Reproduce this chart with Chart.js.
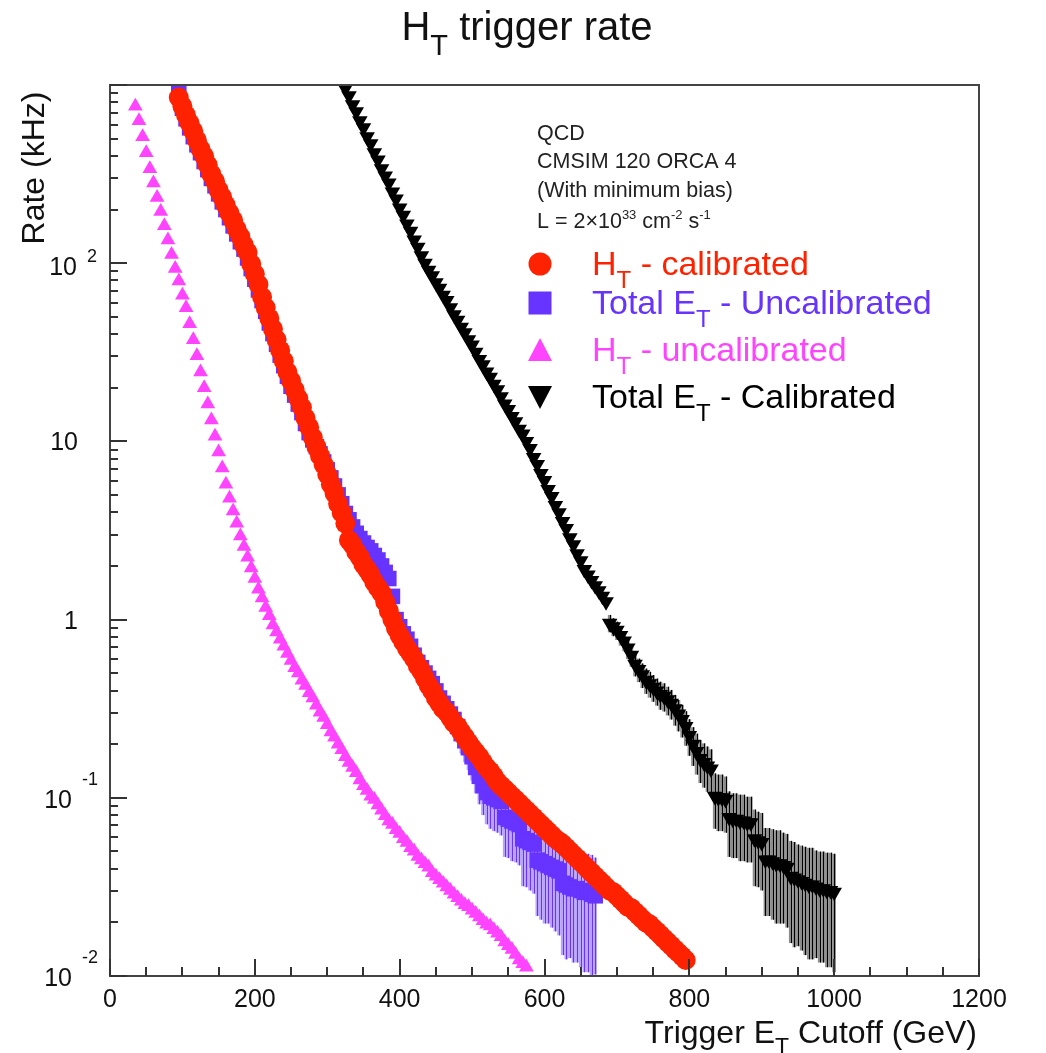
<!DOCTYPE html>
<html>
<head>
<meta charset="utf-8">
<title>HT trigger rate</title>
<script src="https://cdn.jsdelivr.net/npm/chart.js@4.4.1/dist/chart.umd.min.js"></script>
<style>
  html, body { margin: 0; padding: 0; background: #fff; }
  canvas { display: block; }
</style>
</head>
<body>
<canvas id="rateChart" width="1046" height="1053"></canvas>
<script>
// trigger cutoffs, GeV (5 GeV bins)
const cutoffs = [
  0,5,10,15,20,25,30,35,40,45,50,55,60,65,70,75,80,85,90,95,
  100,105,110,115,120,125,130,135,140,145,150,155,160,165,170,175,180,185,190,195,
  200,205,210,215,220,225,230,235,240,245,250,255,260,265,270,275,280,285,290,295,
  300,305,310,315,320,325,330,335,340,345,350,355,360,365,370,375,380,385,390,395,
  400,405,410,415,420,425,430,435,440,445,450,455,460,465,470,475,480,485,490,495,
  500,505,510,515,520,525,530,535,540,545,550,555,560,565,570,575,580,585,590,595,
  600,605,610,615,620,625,630,635,640,645,650,655,660,665,670,675,680,685,690,695,
  700,705,710,715,720,725,730,735,740,745,750,755,760,765,770,775,780,785,790,795,
  800,805,810,815,820,825,830,835,840,845,850,855,860,865,870,875,880,885,890,895,
  900,905,910,915,920,925,930,935,940,945,950,955,960,965,970,975,980,985,990,995,
  1000
];

// rates in kHz, first value belongs to the cutoff in *From
const htCalFrom = 95;   // H_T - calibrated
const htCal = [
  851,759,676,610,550,490,437,398,355,316,
  288,257,234,211,191,174,155,141,126,115,
  99,87,75.9,64.6,56.2,49.0,42.7,37.2,32.4,28.2,
  24.5,21.9,19.5,17.4,15.5,13.5,12.0,10.5,9.33,8.32,
  7.41,6.53,5.75,5.13,4.47,3.98,3.47,2.79,2.63,2.40,
  2.24,2.04,1.91,1.78,1.62,1.51,1.41,1.26,1.12,1.00,
  0.891,0.813,0.750,0.692,0.646,0.603,0.550,0.513,0.468,0.427,
  0.398,0.363,0.339,0.316,0.302,0.282,0.263,0.251,0.234,0.219,
  0.204,0.191,0.180,0.170,0.158,0.148,0.141,0.132,0.123,0.117,
  0.112,0.107,0.102,0.0977,0.0933,0.0891,0.0851,0.0813,0.0776,0.0741,
  0.0708,0.0676,0.0646,0.0617,0.0589,0.0569,0.0550,0.0525,0.0501,0.0479,
  0.0457,0.0437,0.0417,0.0398,0.0380,0.0363,0.0347,0.0331,0.0316,0.0302,
  0.0295,0.0282,0.0269,0.0257,0.0245,0.0240,0.0229,0.0219,0.0209,0.0200,
  0.0195,0.0186,0.0178,0.0170,0.0162,0.0155,0.0148,0.0141,0.0135,0.0129,
  0.0123
];

const etUncalFrom = 95; // Total E_T - Uncalibrated
const etUncal = [
  1000,741,646,575,513,462,417,372,335,299,
  272,245,221,200,180,162,146,132,120,107,
  93.3,81.3,70.8,61.7,53.7,46.2,40.3,35.1,30.5,26.6,
  23.2,20.4,18.2,16.2,14.5,12.6,11.2,10.2,9.33,8.51,
  7.67,6.92,6.24,5.62,5.01,4.47,3.94,3.63,3.31,3.05,
  2.85,2.69,2.54,2.43,2.29,2.16,2.00,1.84,1.70,1.35,
  1.00,0.912,0.832,0.776,0.708,0.631,0.575,0.537,0.501,0.468,
  0.437,0.398,0.363,0.339,
  0.316,0.295,0.275,0.251,0.229,0.209,0.191,0.170,0.148,0.132,
  0.117,0.107,0.102,0.100,0.0977,0.0955,0.0776,0.0759,0.0741,0.0724,
  0.0708,0.0589,0.0575,0.0562,0.0550,0.0447,0.0437,0.0427,0.0417,0.0407,
  0.0398,0.0389,0.0331,0.0324,0.0316,0.0309,0.0309,0.0302,0.0295,0.0295,
  0.0288,0.0282
];
const etUncalErrFrom = 485;
const etUncalErr = [
  0.052,0.050,0.048,0.045,0.042,0.040,0.037,0.036,0.035,0.035,
  0.034,0.034,0.031,0.030,0.030,0.029,0.029,0.027,0.026,0.026,
  0.026,0.023,0.023,0.023,0.022,0.022,0.022,0.022,0.020,0.020,
  0.019,0.019,0.019,0.019,0.019,0.019,0.019,0.018
];

const htUncalFrom = 35; // H_T - uncalibrated
const htUncal = [
  759,631,513,417,339,282,234,195,162,135,
  112,93.3,79.4,66.1,56.2,45.7,37.2,30.2,24.5,20.0,
  16.2,13.2,10.7,8.71,7.08,5.75,4.79,4.07,3.47,2.95,
  2.57,2.24,1.95,1.70,1.48,1.32,1.17,1.05,0.933,0.851,
  0.776,0.708,0.646,0.589,0.537,0.501,0.457,0.427,0.389,0.363,
  0.331,0.302,0.282,0.257,0.234,0.219,0.200,0.186,0.170,0.158,
  0.148,0.138,0.126,0.117,0.110,0.102,0.0977,0.0912,0.0851,0.0794,
  0.0741,0.0708,0.0661,0.0631,0.0589,0.0562,0.0525,0.0501,0.0468,0.0447,
  0.0427,0.0407,0.0380,0.0363,0.0347,0.0331,0.0316,0.0302,0.0288,0.0275,
  0.0263,0.0251,0.0245,0.0234,0.0224,0.0214,0.0204,0.0195,0.0191,0.0182,
  0.0174,0.0166,0.0155,0.0148,0.0141,0.0132,0.0123,0.0117,0.0112
];

const etCalFrom = 325;  // Total E_T - Calibrated
const etCal = [
  955,871,776,708,631,575,513,468,417,380,
  339,309,282,251,229,204,186,166,151,135,
  123,110,100,91.2,85.1,77.6,72.4,66.1,61.7,56.2,
  51.3,47.9,43.7,40.7,37.2,34.7,31.6,28.8,26.9,24.5,
  22.9,20.9,19.5,17.8,16.2,15.1,13.8,12.9,11.7,11.0,
  10.0,9.12,8.13,7.41,6.61,6.03,5.37,4.90,4.37,3.98,
  3.55,3.24,2.88,2.63,2.34,2.14,1.91,1.78,1.66,1.55,
  1.45,1.35,1.26,
  0.955,0.912,0.871,0.813,0.759,0.692,0.631,0.562,0.525,0.490,
  0.457,0.437,0.417,0.398,0.380,0.372,0.355,0.339,0.316,0.295,
  0.275,0.251,0.224,0.200,0.182,0.166,0.158,0.151,0.145,0.102,
  0.100,0.100,0.0977,0.0776,0.0759,0.0759,0.0741,0.0741,0.0724,0.0724,
  0.0589,0.0575,0.0562,0.0447,0.0447,0.0437,0.0427,0.0427,0.0417,0.0407,
  0.0363,0.0355,0.0347,0.0339,0.0331,0.0324,0.0324,0.0316,0.0309,0.0309,
  0.0302,0.0302,0.0295
];
const etCalErrFrom = 690;
const etCalErr = [
  0.107,0.105,0.102,0.099,0.095,0.091,0.087,0.082,0.079,0.077,
  0.074,0.072,0.071,0.069,0.068,0.067,0.065,0.064,0.062,0.059,
  0.057,0.055,0.052,0.049,0.047,0.045,0.044,0.043,0.042,0.035,
  0.035,0.035,0.034,0.031,0.030,0.030,0.030,0.030,0.029,0.029,
  0.027,0.026,0.026,0.023,0.023,0.023,0.023,0.023,0.022,0.022,
  0.021,0.021,0.020,0.020,0.020,0.020,0.020,0.019,0.019,0.019,
  0.019,0.019,0.019
];

// axis ticks
const xMajorTicks = [0, 200, 400, 600, 800, 1000, 1200];
const xTickLabels = ['0', '200', '400', '600', '800', '1000', '1200'];
const yDecades = [0.01, 0.1, 1, 10, 100, 1000];
const yDecadeLabels = [['10', '-2'], ['10', '-1'], ['1', ''], ['10', ''], ['10', '2'], null];

const legendLabels = [
  [['H', ''], ['T', 'sub'], [' - calibrated', '']],
  [['Total E', ''], ['T', 'sub'], [' - Uncalibrated', '']],
  [['H', ''], ['T', 'sub'], [' - uncalibrated', '']],
  [['Total E', ''], ['T', 'sub'], [' - Calibrated', '']]
];
const infoLines = ['QCD', 'CMSIM 120 ORCA 4', '(With minimum bias)'];

const COL = { red: '#ff2200', blue: '#6633ff', magenta: '#ff44ff', black: '#000000' };
const FONT = '"Liberation Sans", Arial, Helvetica, sans-serif';

function toPoints(from, vals, errFrom, errs) {
  const i0 = cutoffs.indexOf(from);
  return vals.map((v, i) => {
    const x = cutoffs[i0 + i];
    let e = null;
    if (errs) {
      const k = cutoffs.indexOf(x) - cutoffs.indexOf(errFrom);
      if (k >= 0 && k < errs.length) e = errs[k];
    }
    return { x: x, y: v, e: e };
  });
}

// text with sub/superscripts, parts = [[text, ''|'sub'|'sup'], ...]
function rich(ctx, x, y, parts, size, color, align) {
  const segs = parts.map(([t, m]) => {
    const s = m === 'sub' ? Math.round(size * 0.72) : m === 'sup' ? Math.round(size * 0.62) : size;
    ctx.font = s + 'px ' + FONT;
    return { t, m, s, w: ctx.measureText(t).width };
  });
  const total = segs.reduce((a, g) => a + g.w, 0);
  let cx = align === 'right' ? x - total : align === 'center' ? x - total / 2 : x;
  ctx.fillStyle = color;
  ctx.textAlign = 'left';
  ctx.textBaseline = 'alphabetic';
  segs.forEach(g => {
    ctx.font = g.s + 'px ' + FONT;
    const dy = g.m === 'sub' ? size * 0.38 : g.m === 'sup' ? -size * 0.42 : 0;
    ctx.fillText(g.t, cx, y + dy);
    cx += g.w;
  });
}

const errorBars = {
  id: 'errorBars',
  beforeDatasetsDraw(chart) {
    const { ctx, chartArea: a, scales: { x, y } } = chart;
    ctx.save();
    ctx.beginPath();
    ctx.rect(a.left, a.top, a.right - a.left, a.bottom - a.top);
    ctx.clip();
    chart.data.datasets.forEach(ds => {
      if (!ds.errColor) return;
      ds.data.forEach(p => {
        if (p.e == null) return;
        const px = x.getPixelForValue(p.x);
        const top = y.getPixelForValue(p.y + p.e);
        const bot = y.getPixelForValue(Math.max(p.y - p.e, 0.001));
        ctx.fillStyle = ds.errBand;
        ctx.fillRect(px - 1.8, top, 3.6, bot - top);
        ctx.strokeStyle = ds.errColor;
        ctx.lineWidth = 1;
        ctx.beginPath();
        ctx.moveTo(Math.round(px) + 0.5, top);
        ctx.lineTo(Math.round(px) + 0.5, bot);
        ctx.stroke();
      });
    });
    ctx.restore();
  }
};

const rootFrame = {
  id: 'rootFrame',
  afterDraw(chart) {
    const { ctx, chartArea: a, scales: { x, y } } = chart;
    ctx.save();

    // frame
    ctx.strokeStyle = '#444';
    ctx.lineWidth = 2;
    ctx.strokeRect(a.left, a.top, a.right - a.left, a.bottom - a.top);

    // ticks
    ctx.strokeStyle = '#333';
    ctx.lineWidth = 2;
    ctx.beginPath();
    xMajorTicks.forEach((v, i) => {
      const px = Math.round(x.getPixelForValue(v));
      ctx.moveTo(px, a.bottom);
      ctx.lineTo(px, a.bottom - 17);
      if (i < xMajorTicks.length - 1) {
        for (let m = 1; m < 4; m++) {
          const mx = Math.round(x.getPixelForValue(v + m * 50));
          ctx.moveTo(mx, a.bottom);
          ctx.lineTo(mx, a.bottom - 9);
        }
      }
    });
    yDecades.forEach((d, i) => {
      const py = Math.round(y.getPixelForValue(d));
      ctx.moveTo(a.left, py);
      ctx.lineTo(a.left + 17, py);
      if (i < yDecades.length - 1) {
        for (let k = 2; k < 10; k++) {
          const my = Math.round(y.getPixelForValue(k * d));
          ctx.moveTo(a.left, my);
          ctx.lineTo(a.left + 8, my);
        }
      }
    });
    ctx.stroke();

    // x tick labels
    ctx.fillStyle = '#111';
    ctx.font = '25px ' + FONT;
    ctx.textAlign = 'center';
    ctx.textBaseline = 'alphabetic';
    xMajorTicks.forEach((v, i) => ctx.fillText(xTickLabels[i], x.getPixelForValue(v), 1007));

    // y tick labels (ROOT style 10 with raised exponent)
    yDecades.forEach((d, i) => {
      const lab = yDecadeLabels[i];
      if (!lab) return;
      const py = y.getPixelForValue(d);
      const neg = lab[1].startsWith('-');
      ctx.fillStyle = '#111';
      ctx.font = '25px ' + FONT;
      ctx.textAlign = 'right';
      if (!lab[1]) {
        ctx.fillText(lab[0], 78, py + 9);
      } else {
        ctx.fillText(lab[0], neg ? 72 : 77, py + (neg ? 10 : 12));
        ctx.font = '18px ' + FONT;
        ctx.textAlign = 'left';
        ctx.fillText(lab[1], neg ? 82 : 87, py + (neg ? -13 : -1));
      }
    });

    // axis titles
    rich(ctx, 977, 1043, [['Trigger E', ''], ['T', 'sub'], [' Cutoff (GeV)', '']], 32, '#111', 'right');
    ctx.save();
    ctx.translate(44, 168);
    ctx.rotate(-Math.PI / 2);
    ctx.font = '32px ' + FONT;
    ctx.fillStyle = '#111';
    ctx.textAlign = 'center';
    ctx.textBaseline = 'alphabetic';
    ctx.fillText('Rate (kHz)', 0, 0);
    ctx.restore();

    // title
    rich(ctx, 527, 40, [['H', ''], ['T', 'sub'], [' trigger rate', '']], 40, '#111', 'center');

    // info text
    ctx.fillStyle = '#222';
    ctx.font = '21.5px ' + FONT;
    ctx.textAlign = 'left';
    [140, 168, 197].forEach((by, i) => ctx.fillText(infoLines[i], 537, by));
    rich(ctx, 537, 228, [['L = 2\u00d710', ''], ['33', 'sup'], [' cm', ''], ['-2', 'sup'], [' s', ''], ['-1', 'sup']], 21.5, '#222', 'left');

    // legend
    const rowsY = [264, 303, 350, 397];
    const cols = [COL.red, COL.blue, COL.magenta, COL.black];
    const mx = 540;
    rowsY.forEach((ry, i) => {
      ctx.fillStyle = cols[i];
      ctx.beginPath();
      if (i === 0) ctx.arc(mx, ry, 11.5, 0, Math.PI * 2);
      if (i === 1) ctx.rect(mx - 11.5, ry - 11.5, 23, 23);
      if (i === 2) { ctx.moveTo(mx, ry - 12); ctx.lineTo(mx + 12, ry + 11); ctx.lineTo(mx - 12, ry + 11); }
      if (i === 3) { ctx.moveTo(mx - 12, ry - 11); ctx.lineTo(mx + 12, ry - 11); ctx.lineTo(mx, ry + 12); }
      ctx.closePath();
      ctx.fill();
      rich(ctx, 592, ry + 11, legendLabels[i], 34, cols[i], 'left');
    });

    ctx.restore();
  }
};

new Chart(document.getElementById('rateChart'), {
  type: 'scatter',
  data: {
    datasets: [
      {
        label: 'HT - calibrated',
        data: toPoints(htCalFrom, htCal),
        pointStyle: 'circle', pointRadius: 10, pointBorderWidth: 0,
        backgroundColor: COL.red, pointBackgroundColor: COL.red, borderColor: COL.red
      },
      {
        label: 'Total ET - Uncalibrated',
        data: toPoints(etUncalFrom, etUncal, etUncalErrFrom, etUncalErr),
        pointStyle: 'rect', pointRadius: 11, pointBorderWidth: 0,
        backgroundColor: COL.blue, pointBackgroundColor: COL.blue, borderColor: COL.blue,
        errColor: '#6633ff', errBand: 'rgba(102,51,255,0.45)'
      },
      {
        label: 'HT - uncalibrated',
        data: toPoints(htUncalFrom, htUncal),
        pointStyle: 'triangle', pointRadius: 8.5, pointBorderWidth: 0,
        backgroundColor: COL.magenta, pointBackgroundColor: COL.magenta, borderColor: COL.magenta
      },
      {
        label: 'Total ET - Calibrated',
        data: toPoints(etCalFrom, etCal, etCalErrFrom, etCalErr),
        pointStyle: 'triangle', pointRotation: 180, pointRadius: 9, pointBorderWidth: 0,
        backgroundColor: COL.black, pointBackgroundColor: COL.black, borderColor: COL.black,
        errColor: '#000000', errBand: 'rgba(0,0,0,0.45)'
      }
    ]
  },
  options: {
    responsive: false,
    animation: false,
    devicePixelRatio: 1,
    events: [],
    layout: { padding: { left: 110, right: 67, top: 85, bottom: 77 } },
    scales: {
      x: { type: 'linear', min: 0, max: 1200, display: false },
      y: { type: 'logarithmic', min: 0.01, max: 1000, display: false }
    },
    plugins: { legend: { display: false }, tooltip: { enabled: false } }
  },
  plugins: [errorBars, rootFrame]
});
</script>
</body>
</html>
